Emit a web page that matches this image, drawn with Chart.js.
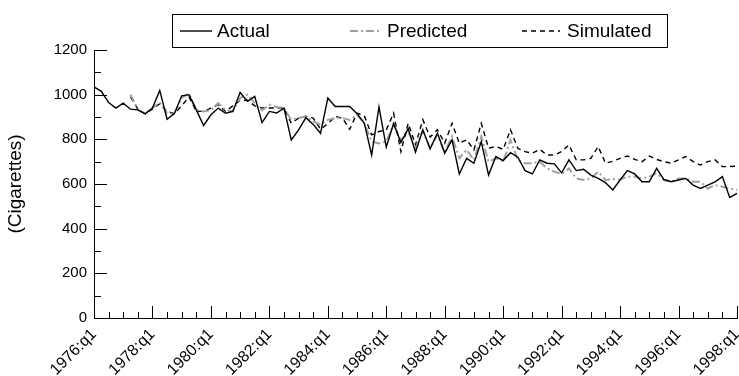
<!DOCTYPE html>
<html><head><meta charset="utf-8">
<script src="https://cdn.jsdelivr.net/npm/chart.js@4"></script>
<style>html,body{margin:0;padding:0;background:#fff;}#wrap{width:739px;height:376px;position:relative;}</style>
</head><body><div id="wrap"><canvas id="c" width="739" height="376"></canvas></div>
<script>
const years = [1976,1977,1978,1979,1980,1981,1982,1983,1984,1985,1986,1987,1988,1989,1990,1991,1992,1993,1994,1995,1996,1997,1998];
const tickLabels = ['1976:q1','1978:q1','1980:q1','1982:q1','1984:q1','1986:q1','1988:q1','1990:q1','1992:q1','1994:q1','1996:q1','1998:q1'];
const seriesNames = ['Actual','Predicted','Simulated'];
const actual = [1035,1015,965,940,962,935,932,914,940,1019,890,915,995,1000,932,862,910,940,917,925,1010,970,992,875,925,918,940,797,842,897,867,827,985,947,947,947,915,872,730,945,765,870,786,848,742,843,758,828,738,798,645,715,693,790,640,723,705,740,720,660,645,708,693,690,650,708,660,666,640,625,606,573,618,660,645,610,610,670,620,610,618,625,595,580,595,610,633,540,558];
const predicted = [null,null,null,null,null,1000,933,917,940,965,917,915,985,1005,932,925,930,962,932,925,985,1000,962,930,955,945,940,887,895,903,880,865,887,895,895,887,910,872,790,782,790,870,795,835,760,838,760,820,740,813,715,753,708,813,700,715,700,797,708,693,693,700,670,655,645,670,625,618,625,655,618,622,620,633,633,625,633,648,618,610,625,625,610,610,580,595,588,580,573];
const simulated = [null,null,null,null,null,990,935,915,935,960,925,915,950,990,925,925,940,955,925,950,975,975,950,940,940,940,940,872,895,903,895,845,870,902,895,845,917,905,820,835,842,917,745,872,775,888,810,843,783,872,783,798,753,872,760,768,755,843,760,745,738,755,730,730,745,775,708,708,715,768,693,702,715,725,710,700,725,710,700,693,708,723,700,685,700,708,678,678,680];

const categories = [];
years.forEach(y => { for (let q = 1; q <= 4; q++) { if (y === 1998 && q > 1) break; categories.push(y + ':q' + q); } });

const FONT = '"Liberation Sans", Arial, Helvetica, sans-serif';
const styles = [
  {color:'#000', width:1.4, dash:[]},
  {color:'#a0a0a0', width:2, dash:[8,3,2,3]},
  {color:'#000', width:1.4, dash:[5,4]}
];

const tickPlugin = {
  id: 'ticksAndLegend',
  afterDraw(chart) {
    const ctx = chart.ctx, xs = chart.scales.x, ys = chart.scales.y, a = chart.chartArea;
    ctx.save();
    ctx.strokeStyle = '#000'; ctx.lineWidth = 1;
    for (let v = 0; v <= 1200; v += 100) {
      const y = Math.round(ys.getPixelForValue(v)) + 0.5;
      const len = v % 200 === 0 ? 13 : 7;
      ctx.beginPath(); ctx.moveTo(a.left, y); ctx.lineTo(a.left + len, y); ctx.stroke();
    }
    for (let i = 0; i < categories.length; i += 2) {
      const x = Math.round(xs.getPixelForValue(i)) + 0.5;
      const len = i % 8 === 0 ? 12 : 6;
      ctx.beginPath(); ctx.moveTo(x, a.bottom); ctx.lineTo(x, a.bottom - len); ctx.stroke();
    }
    // legend
    const bx = 172.5, by = 14.5, bw = 495, bh = 33, cy = by + bh / 2;
    ctx.strokeRect(bx, by, bw, bh);
    const items = [[180, 212, 217], [350, 381, 387], [522, 560, 567]];
    ctx.font = '19px ' + FONT; ctx.fillStyle = '#000'; ctx.textBaseline = 'middle'; ctx.textAlign = 'left';
    items.forEach((it, k) => {
      const s = styles[k];
      ctx.strokeStyle = s.color; ctx.lineWidth = s.width; ctx.setLineDash(s.dash);
      ctx.beginPath(); ctx.moveTo(it[0], cy); ctx.lineTo(it[1], cy); ctx.stroke();
      ctx.setLineDash([]);
      ctx.fillText(seriesNames[k], it[2], cy + 1);
    });
    ctx.restore();
  }
};

const mk = (k, data) => ({
  label: seriesNames[k], data, borderColor: styles[k].color, borderWidth: styles[k].width,
  borderDash: styles[k].dash, pointRadius: 0, fill: false, tension: 0, spanGaps: false
});

new Chart(document.getElementById('c'), {
  type: 'line',
  data: { labels: categories, datasets: [mk(0, actual), mk(1, predicted), mk(2, simulated)] },
  options: {
    responsive: false, animation: false, devicePixelRatio: 1,
    layout: { padding: { top: 50, right: 2, left: 0, bottom: 0 } },
    plugins: { legend: { display: false }, tooltip: { enabled: false } },
    scales: {
      x: {
        type: 'category', offset: false,
        grid: { display: false, drawTicks: false },
        border: { display: true, color: '#000', width: 1 },
        ticks: {
          autoSkip: false, maxRotation: 45, minRotation: 45, padding: 7, color: '#000',
          font: { family: FONT, size: 16 },
          callback: (v, i) => (i % 8 === 0 ? tickLabels[i / 8] : '')
        },
        afterFit: s => { s.height = 58; s.paddingLeft = 0; s.paddingRight = 0; }
      },
      y: {
        min: 0, max: 1200,
        grid: { display: false, drawTicks: false },
        border: { display: true, color: '#000', width: 1 },
        ticks: { stepSize: 200, padding: 7, color: '#000', font: { family: FONT, size: 15 }, callback: v => String(v) },
        title: { display: true, text: '(Cigarettes)', color: '#000', font: { family: FONT, size: 19 }, padding: { top: 4, bottom: 0 } },
        afterFit: s => { s.width = 94; s.paddingTop = 0; s.paddingBottom = 0; }
      }
    }
  },
  plugins: [tickPlugin]
});
</script></body></html>
